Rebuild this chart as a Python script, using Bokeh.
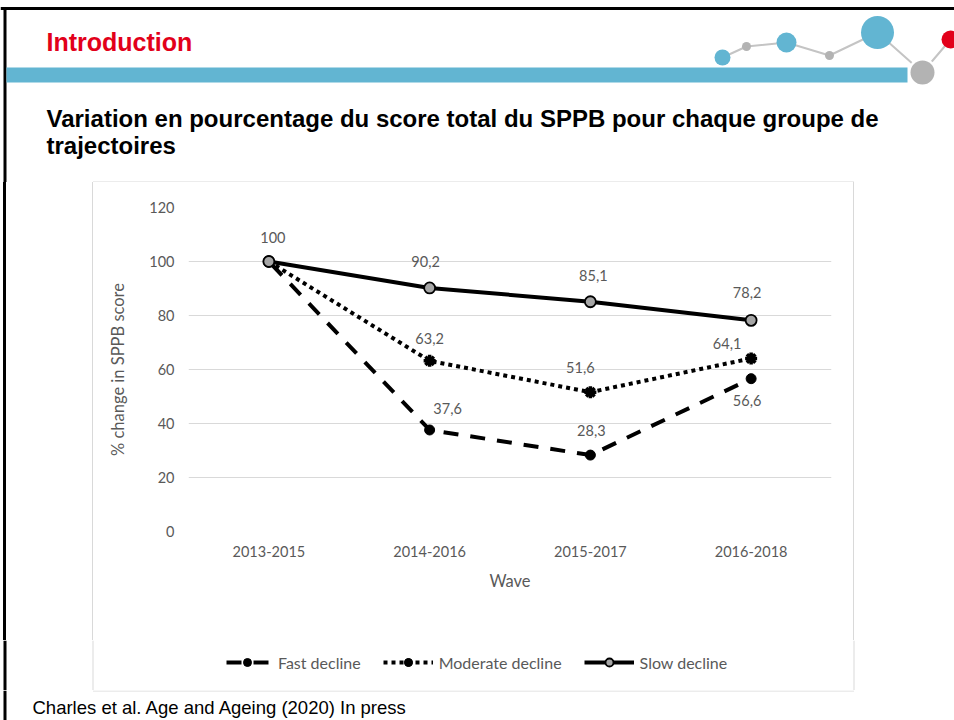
from bokeh.plotting import figure
from bokeh.layouts import column, row
from bokeh.models import (Range1d, FactorRange, Legend, LegendItem, ColumnDataSource,
                          FixedTicker, Div)
from bokeh.core.properties import value
from bokeh.embed import file_html
from bokeh.resources import INLINE

# ---------------- data ----------------
waves = ["2013-2015", "2014-2016", "2015-2017", "2016-2018"]
fast = [100, 37.6, 28.3, 56.6]
moderate = [100, 63.2, 51.6, 64.1]
slow = [100, 90.2, 85.1, 78.2]
y_ticks = [0, 20, 40, 60, 80, 100, 120]
series_names = ["Fast decline", "Moderate decline", "Slow decline"]

# which points carry a data label
fast_labelled = [False, True, True, True]
moderate_labelled = [False, True, True, True]
slow_labelled = [True, True, True, True]

# label placement (screen px offsets of the label centre from the point)
fast_label_dx = [0, 18, 1, -4]
fast_label_dy = [0, -21, -25, 22]
moderate_label_dx = [0, 0, -10, -24]
moderate_label_dy = [0, -22, -25, -15]
slow_label_dx = [4, -4, 3, -4]
slow_label_dy = [-24, -26, -26, -28]

TXT = "#595959"
CH_FONT = "Lato"
HEAD_FONT = "Liberation Sans"
BLUE = "#62B5D2"
GREY = "#B3B3B3"
RED = "#E2001A"
BOX = "#D9D9D9"
W = 954

# series styles (shared by chart and legend)
FAST_LINE = dict(line_color="black", line_width=4, line_dash="15 12", line_dash_offset=23)
FAST_MARK = dict(marker="circle", size=10, fill_color="black", line_color="black")
MOD_LINE = dict(line_color="black", line_width=4, line_dash="4 4")
MOD_MARK = dict(marker="asterisk", size=12, line_color="black", line_width=3.5)
MOD_MARK2 = dict(marker="circle", size=7, fill_color="black", line_color="black")
SLOW_LINE = dict(line_color="black", line_width=4)
SLOW_MARK = dict(marker="circle", size=11, fill_color="#A6A6A6", line_color="black",
                 line_width=1.8)


def fmt(v):
    s = ("%.1f" % v).replace(".", ",")
    return s[:-2] if s.endswith(",0") else s


def blank(width, height):
    f = figure(width=width, height=height, x_range=Range1d(0, width),
               y_range=Range1d(height, 0), output_backend="svg",
               toolbar_location=None, x_axis_type=None, y_axis_type=None)
    f.min_border = 0
    f.outline_line_color = None
    f.grid.visible = False
    f.background_fill_color = "white"
    f.border_fill_color = "white"
    return f


# ---------------- header ----------------
HH = 182
head = blank(W, HH)
head.segment(x0=[0], y0=[8], x1=[W], y1=[8], line_color="black", line_width=3)
head.segment(x0=[4.5], y0=[7], x1=[4.5], y1=[HH], line_color="black", line_width=3)
head.text(x=[46], y=[41.5], text=["Introduction"], text_font=value(HEAD_FONT),
          text_font_style="bold", text_font_size="25px", text_color=RED,
          text_baseline="middle")
head.quad(left=[6], right=[907], top=[67], bottom=[82], fill_color=BLUE, line_color=None)
dx = [722, 746, 786, 829, 877, 922, 950]
dy = [57, 46, 42, 55, 32, 72, 39]
head.line(dx, dy, line_color="#C4C4C4", line_width=2)
head.circle(x=[922], y=[72], radius=14.5, fill_color="white", line_color=None)
head.circle(x=dx, y=dy, radius=[8, 4.5, 10, 4.5, 16.5, 12, 9],
            fill_color=[BLUE, GREY, BLUE, GREY, BLUE, GREY, RED], line_color=None)
head.text(x=[46, 46], y=[118, 145],
          text=["Variation en pourcentage du score total du SPPB pour chaque groupe de",
                "trajectoires"],
          text_font=value(HEAD_FONT), text_font_style="bold", text_font_size="24px",
          text_color="black", text_baseline="middle")
head.segment(x0=[92.5], y0=[181.5], x1=[853.5], y1=[181.5], line_color=BOX, line_width=1)

# ---------------- chart row ----------------
MH = 458
left = Div(text="", width=93, height=MH, margin=0,
           styles={"background": "linear-gradient(to right, #fff 3px, #000 3px, #000 6px, "
                                 "#fff 6px, #fff 92px, %s 92px)" % BOX})
right = Div(text="", width=W - 853, height=MH, margin=0,
            styles={"background": "linear-gradient(to right, %s 1px, #fff 1px)" % BOX})

p = figure(width=760, height=MH, x_range=FactorRange(*waves, range_padding=0),
           y_range=Range1d(0, 120), output_backend="svg", toolbar_location=None,
           min_border_left=95, min_border_right=22, min_border_top=25, min_border_bottom=109)
p.outline_line_color = None
p.background_fill_color = "white"
p.border_fill_color = "white"
p.xgrid.grid_line_color = None
p.ygrid.grid_line_color = BOX
p.ygrid.grid_line_width = 1
p.yaxis.ticker = FixedTicker(ticks=y_ticks)
for ax in (p.xaxis[0], p.yaxis[0]):
    ax.axis_line_color = None
    ax.major_tick_line_color = None
    ax.minor_tick_line_color = None
    ax.major_tick_out = 0
    ax.major_tick_in = 0
    ax.major_label_text_font = CH_FONT
    ax.major_label_text_font_size = "14.5px"
    ax.major_label_text_color = TXT
    ax.axis_label_text_font = CH_FONT
    ax.axis_label_text_font_size = "16.5px"
    ax.axis_label_text_font_style = "normal"
    ax.axis_label_text_color = TXT
p.yaxis.axis_label = "% change in SPPB score"
p.yaxis.major_label_standoff = 14
p.yaxis.axis_label_standoff = 18
p.xaxis.axis_label = "Wave"
p.xaxis.major_label_standoff = 14
p.xaxis.axis_label_standoff = 11

p.line(waves, fast, **FAST_LINE)
p.scatter(waves, fast, **FAST_MARK)
p.line(waves, moderate, **MOD_LINE)
p.scatter(waves, moderate, **MOD_MARK)
p.scatter(waves, moderate, **MOD_MARK2)
p.line(waves, slow, **SLOW_LINE)
p.scatter(waves, slow, **SLOW_MARK)


def labels(vals, flags, ddx, ddy):
    xs, ys, ts, ox, oy = [], [], [], [], []
    for w, v, f, a, b in zip(waves, vals, flags, ddx, ddy):
        if f:
            xs.append(w); ys.append(v); ts.append(fmt(v)); ox.append(a); oy.append(b)
    src = ColumnDataSource(dict(x=xs, y=ys, t=ts, ox=ox, oy=oy))
    p.text(x="x", y="y", text="t", x_offset="ox", y_offset="oy", source=src,
           text_font=value(CH_FONT), text_font_size="14.5px", text_color=TXT,
           text_align="center", text_baseline="middle")


labels(fast, fast_labelled, fast_label_dx, fast_label_dy)
labels(moderate, moderate_labelled, moderate_label_dx, moderate_label_dy)
labels(slow, slow_labelled, slow_label_dx, slow_label_dy)

mid = row(left, p, right, spacing=0)

# ---------------- legend strip (inside chart box) ----------------
LH = 50
leg = blank(W, LH)
leg.segment(x0=[4.5, 92.5, 853.5], y0=[0, 0, 0], x1=[4.5, 92.5, 853.5], y1=[LH, LH, LH],
            line_color=["black", BOX, BOX], line_width=[3, 1, 1])
NAN = float("nan")


def proxy(kind, style):
    src = ColumnDataSource(dict(x=[NAN], y=[NAN]))  # legend key only, nothing plotted
    if kind == "line":
        return leg.line(x="x", y="y", source=src, **style)
    return leg.scatter(x="x", y="y", source=src, **style)


legend = Legend(items=[LegendItem(label=series_names[0],
                                  renderers=[proxy("line", FAST_LINE), proxy("mark", FAST_MARK)]),
                       LegendItem(label=series_names[1],
                                  renderers=[proxy("line", MOD_LINE), proxy("mark", MOD_MARK),
                                             proxy("mark", MOD_MARK2)]),
                       LegendItem(label=series_names[2],
                                  renderers=[proxy("line", SLOW_LINE), proxy("mark", SLOW_MARK)])],
                orientation="horizontal", location=(222, 18), border_line_color=None,
                background_fill_alpha=0, glyph_width=50, glyph_height=20,
                label_text_font=CH_FONT, label_text_font_size="16px",
                label_text_color=TXT, spacing=22, padding=0, margin=0,
                label_standoff=6)
leg.add_layout(legend, "center")

# ---------------- footer ----------------
FH = 720 - HH - MH - LH
foot = blank(W, FH)
foot.segment(x0=[4.5], y0=[0], x1=[4.5], y1=[FH], line_color="black", line_width=3)
foot.segment(x0=[92.5], y0=[0.5], x1=[853.5], y1=[0.5], line_color=BOX, line_width=1)
foot.text(x=[32], y=[16.5], text=["Charles et al. Age and Ageing (2020) In press"],
          text_font=value(HEAD_FONT), text_font_size="18.5px", text_color="black",
          text_baseline="middle")

page = column(head, mid, leg, foot, spacing=0)
open("out.html", "w").write(file_html(page, INLINE))
